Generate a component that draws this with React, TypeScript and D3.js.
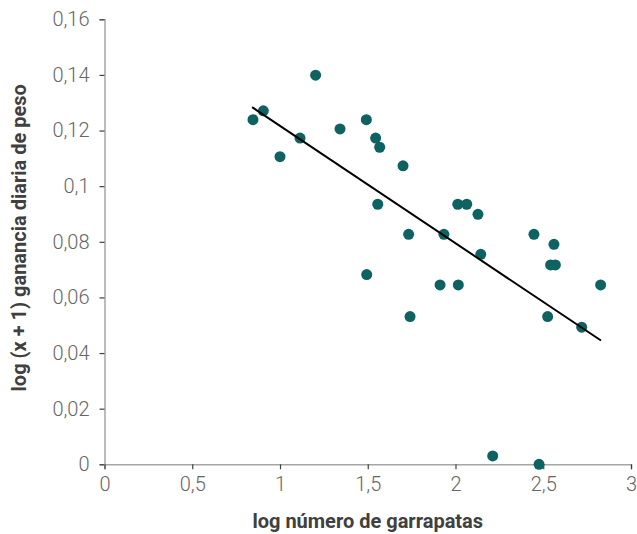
import React, { useRef, useEffect } from 'react';
import * as d3 from 'd3';

// log número de garrapatas
const logTicks = [0.846, 0.905, 1.0, 1.114, 1.203, 1.342, 1.492, 1.545, 1.568, 1.494,
  1.557, 1.701, 1.733, 1.741, 1.934, 1.912, 2.013, 2.064, 2.128, 2.016,
  2.144, 2.212, 2.447, 2.476, 2.525, 2.561, 2.542, 2.569, 2.719, 2.827];
// log (x + 1) ganancia diaria de peso
const logGain = [0.1239, 0.1271, 0.1106, 0.1173, 0.1399, 0.1206, 0.1239, 0.1173, 0.114, 0.0682,
  0.0935, 0.1073, 0.0827, 0.0531, 0.0827, 0.0645, 0.0935, 0.0935, 0.0899, 0.0645,
  0.0755, 0.003, 0.0827, 0.0, 0.0531, 0.0791, 0.0717, 0.0717, 0.0493, 0.0645];

// linear trend line ends
const trendX = [0.841, 2.829];
const trendY = [0.1284, 0.0445];

const xTicks = [0, 0.5, 1, 1.5, 2, 2.5, 3];
const yTicks = [0, 0.02, 0.04, 0.06, 0.08, 0.1, 0.12, 0.14, 0.16];

const fmt = (v: number) => String(v).replace('.', ',');

const ScatterChart = () => {
  const ref = useRef<SVGSVGElement>(null);

  useEffect(() => {
    if (!ref.current) return;
    const width = 637;
    const height = 534;
    const margin = { left: 104.5, right: 6, top: 19.3, bottom: 69.7 };

    const svg = d3.select(ref.current);
    svg.selectAll('*').remove();
    svg.attr('width', width).attr('height', height);

    const x = d3.scaleLinear().domain([0, 3]).range([margin.left, width - margin.right]);
    const y = d3.scaleLinear().domain([0, 0.16]).range([height - margin.bottom, margin.top]);

    // y axis
    const yAxis = svg.append('g')
      .attr('transform', `translate(${margin.left},0)`)
      .call(d3.axisLeft(y).tickValues(yTicks).tickFormat(d => fmt(+d)).tickSize(5).tickPadding(10));
    // x axis
    const xAxis = svg.append('g')
      .attr('transform', `translate(0,${height - margin.bottom})`)
      .call(d3.axisBottom(x).tickValues(xTicks).tickFormat(d => fmt(+d)).tickSize(5).tickPadding(8));

    [yAxis, xAxis].forEach(g => {
      g.select('.domain').attr('stroke', '#a6a6a6').attr('stroke-width', 1.5);
      g.selectAll('.tick line').attr('stroke', '#404040').attr('stroke-width', 1.2);
      g.selectAll('.tick text')
        .attr('fill', '#666')
        .style('font-family', 'Roboto, sans-serif')
        .style('font-weight', 300)
        .style('font-size', '20px');
    });

    // points
    svg.append('g')
      .selectAll('circle')
      .data(logTicks.map((v, i) => [v, logGain[i]]))
      .enter()
      .append('circle')
      .attr('cx', d => x(d[0]))
      .attr('cy', d => y(d[1]))
      .attr('r', 5.5)
      .attr('fill', '#0e6262');

    // trend line
    const line = d3.line<number>().x(d => x(trendX[d])).y(d => y(trendY[d]));
    svg.append('path')
      .attr('d', line([0, 1]))
      .attr('fill', 'none')
      .attr('stroke', '#000')
      .attr('stroke-width', 2);

    // titles
    svg.append('text')
      .attr('x', (margin.left + width - margin.right) / 2)
      .attr('y', 528)
      .attr('text-anchor', 'middle')
      .attr('fill', '#404040')
      .style('font-family', 'Roboto, sans-serif')
      .style('font-weight', 700)
      .style('font-size', '20px')
      .text('log número de garrapatas');

    svg.append('text')
      .attr('transform', `translate(26,${(margin.top + height - margin.bottom) / 2 - 4}) rotate(-90)`)
      .attr('text-anchor', 'middle')
      .attr('fill', '#404040')
      .style('font-family', 'Roboto, sans-serif')
      .style('font-weight', 700)
      .style('font-size', '20px')
      .text('log (x + 1) ganancia diaria de peso');
  }, []);

  return <svg ref={ref} style={{ position: 'absolute', left: 0, top: 0 }} />;
};

export default function App() {
  return <ScatterChart />;
}
